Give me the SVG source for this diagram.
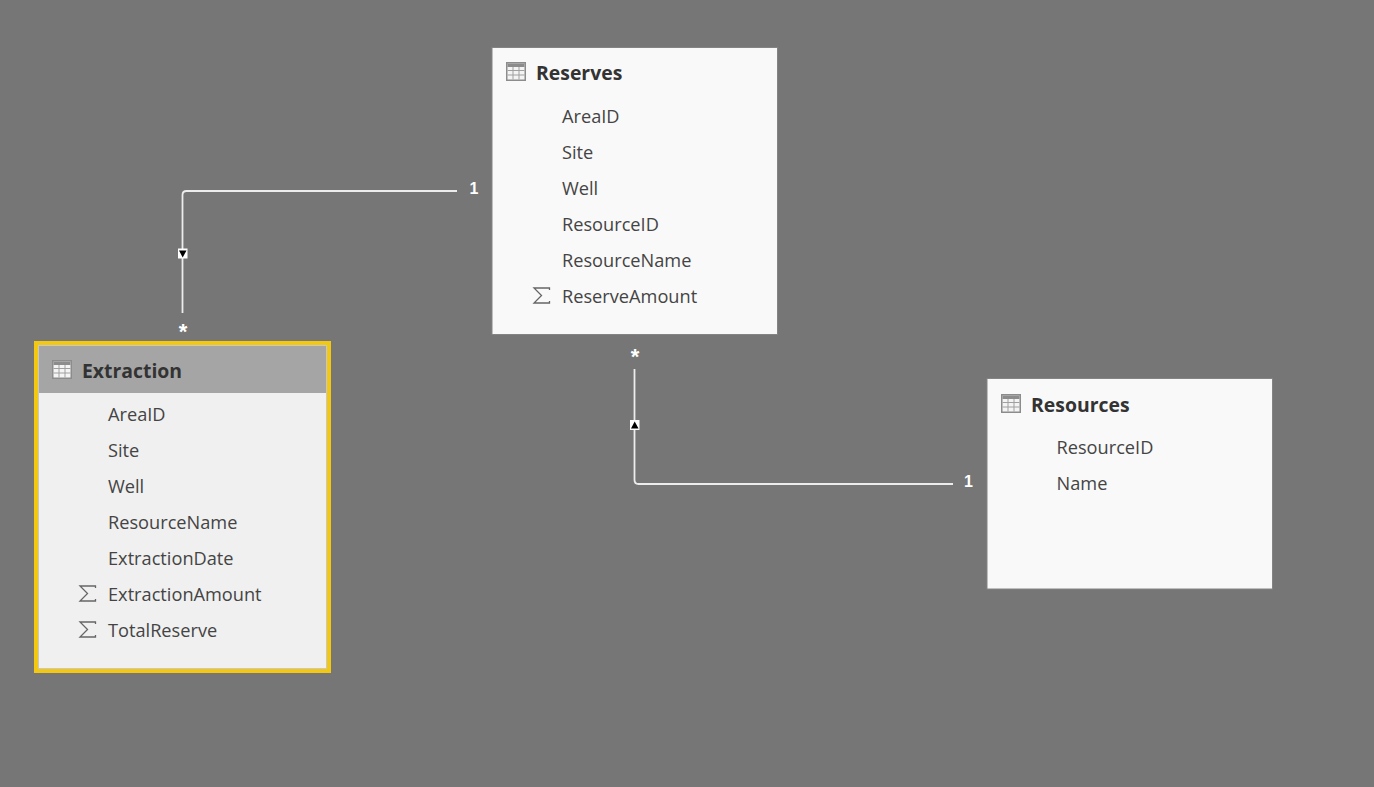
<svg xmlns="http://www.w3.org/2000/svg" width="1374" height="787" viewBox="0 0 1374 787">
<style>
.card{fill:#f9f9f9;stroke:#848484;stroke-width:1}
.title{font:700 19.400px "Open Sans","Noto Sans",sans-serif;fill:#333}
.field{font:400 18.200px "Open Sans","Noto Sans",sans-serif;fill:#444}
.conn{fill:none;stroke:#ececec;stroke-width:1.800}
.card-label{font:700 16px "Liberation Sans",sans-serif;fill:#fff;text-anchor:middle}
.star{font:700 22px "Liberation Sans",sans-serif;fill:#fff;text-anchor:middle}
.sigma{fill:none;stroke:#666;stroke-width:1.300}
</style>
<defs>
<g id="tbl">
<rect x="0" y="0" width="20" height="19" fill="#8c8c8c"/>
<rect x="1.500" y="1.500" width="17" height="16" fill="#f4f4f4"/>
<rect x="1.500" y="1.500" width="17" height="3.500" fill="#8c8c8c"/>
<path d="M1.500 8.500H18.500M1.500 13H18.500M7 5V17.500M13 5V17.500" stroke="#a0a0a0" stroke-width="1" fill="none"/>
</g>
<path id="sig" class="sigma" d="M16.500 5V3H1L8.500 10.500L1 18H16.500V16"/>
</defs>
<rect width="1374" height="787" fill="#767676"/>
<g id="connectors">
<path class="conn" d="M182.500 313V195Q182.500 191 186.500 191H457"/>
<rect x="178" y="248.500" width="9.500" height="10" fill="#fff"/>
<path d="M179 250.500H186.500L182.700 257.500Z" fill="#000"/>
<text class="star" x="183" y="338.500">*</text>
<text class="card-label" x="474" y="193.500">1</text>
<path class="conn" d="M634.500 369V480Q634.500 484 638.500 484H953"/>
<rect x="630" y="420" width="9.500" height="10" fill="#fff"/>
<path d="M631 428.500H638.500L634.700 421.500Z" fill="#000"/>
<text class="star" x="635" y="364">*</text>
<text class="card-label" x="968.500" y="487">1</text>
</g>
<g id="reserves">
<rect class="card" x="492" y="47.500" width="285.500" height="287"/>
<use href="#tbl" x="506" y="62"/>
<text class="title" x="536" y="80">Reserves</text>
<text class="field" x="562" y="122.500">AreaID</text>
<text class="field" x="562" y="158.500">Site</text>
<text class="field" x="562" y="194.500">Well</text>
<text class="field" x="562" y="230.500">ResourceID</text>
<text class="field" x="562" y="266.500">ResourceName</text>
<use href="#sig" x="533" y="285"/>
<text class="field" x="562" y="302.500">ReserveAmount</text>
</g>
<g id="resources">
<rect class="card" x="987" y="378.500" width="285.500" height="210.500"/>
<use href="#tbl" x="1001" y="394"/>
<text class="title" x="1031" y="412">Resources</text>
<text class="field" x="1056.500" y="453.500">ResourceID</text>
<text class="field" x="1056.500" y="489.500">Name</text>
</g>
<g id="extraction">
<rect x="34" y="341" width="297" height="332" fill="#f2c811"/>
<rect x="38.500" y="345.500" width="288" height="323" fill="#f0f0f0" stroke="#c8c8c8" stroke-width="1"/>
<rect x="39" y="346" width="287" height="47" fill="#a5a5a5"/>
<use href="#tbl" x="52" y="360"/>
<text class="title" x="82" y="378">Extraction</text>
<text class="field" x="108" y="420.500">AreaID</text>
<text class="field" x="108" y="456.500">Site</text>
<text class="field" x="108" y="492.500">Well</text>
<text class="field" x="108" y="528.500">ResourceName</text>
<text class="field" x="108" y="564.500">ExtractionDate</text>
<use href="#sig" x="79" y="583"/>
<text class="field" x="108" y="600.500">ExtractionAmount</text>
<use href="#sig" x="79" y="619"/>
<text class="field" x="108" y="636.500">TotalReserve</text>
</g>
</svg>
